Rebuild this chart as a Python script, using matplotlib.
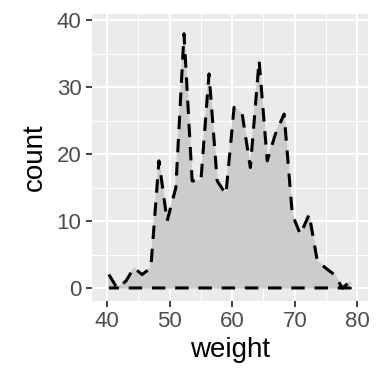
import matplotlib
matplotlib.use('Agg')
import matplotlib.pyplot as plt
from matplotlib.ticker import MultipleLocator

plt.rcParams['font.family'] = ['Liberation Sans', 'DejaVu Sans']

# bin centres and counts (30 bins)
weight = [40.3, 41.6, 43.0, 44.3, 45.6, 47.0, 48.3, 49.6, 51.0, 52.3,
          53.6, 55.0, 56.3, 57.6, 59.0, 60.3, 61.6, 62.9, 64.3, 65.6,
          66.9, 68.3, 69.6, 70.9, 72.3, 73.6, 74.9, 76.3, 77.6, 78.9]
count = [2, 0, 1, 3, 2, 3, 19, 10, 15, 38,
         16, 16, 32, 16, 14, 27, 26, 18, 34, 19,
         23, 26, 11, 8, 11, 4, 3, 2, 0, 1]

xticks = [40, 50, 60, 70, 80]
yticks = [0, 10, 20, 30, 40]

fig = plt.figure(figsize=(3.84, 3.84), dpi=100)
ax = fig.add_axes([92/384, 83/384, 276/384, 287/384])
ax.set_facecolor('#EBEBEB')

# area fill, then dashed outline: top line, down the right end, back along 0
px = weight + [weight[-1], weight[0]]
py = count + [0, 0]
ax.fill(px, py, color='#CCCCCC', zorder=2)
ax.plot(px, py, color='black', lw=2.2, linestyle=(0, (4.4, 3.2)),
        dash_capstyle='butt', zorder=3)

ax.set_xlim(37.6, 81.7)
ax.set_ylim(-1.95, 40.95)
ax.set_xticks(xticks)
ax.set_yticks(yticks)
ax.xaxis.set_minor_locator(MultipleLocator(5))
ax.yaxis.set_minor_locator(MultipleLocator(5))
ax.grid(which='major', color='white', lw=1.5, zorder=0)
ax.grid(which='minor', color='white', lw=0.75, zorder=0)
ax.set_axisbelow(True)

for s in ax.spines.values():
    s.set_visible(False)

ax.tick_params(which='major', length=4.5, width=1.3, color='#333333',
               labelsize=16, labelcolor='#4D4D4D', pad=3)
ax.tick_params(which='minor', length=0)

ax.set_xlabel('weight', fontsize=20, labelpad=3)
ax.set_ylabel('count', fontsize=20, labelpad=6)

fig.savefig('out.png', dpi=100)
